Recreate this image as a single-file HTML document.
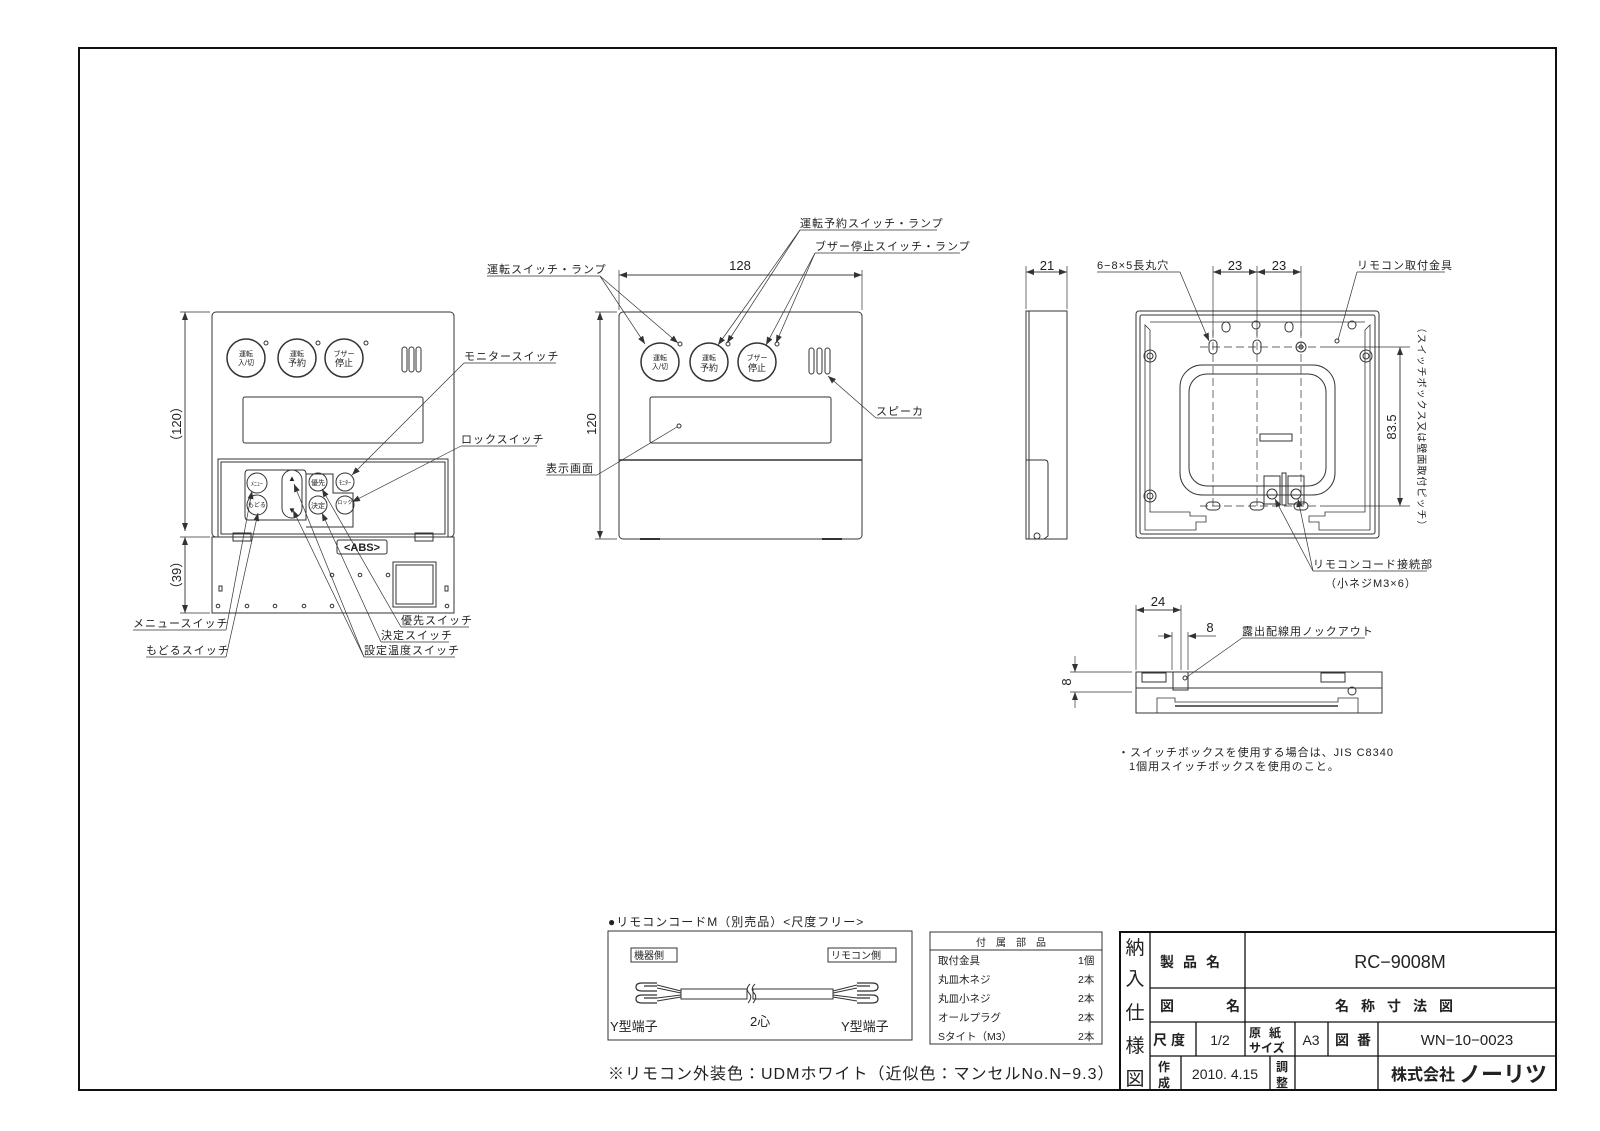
<!DOCTYPE html>
<html><head><meta charset="utf-8"><style>
html,body{margin:0;padding:0;background:#fff;}
svg{display:block;}
text{font-family:"Liberation Sans","Noto Sans CJK JP",sans-serif;fill:#222;}
</style></head><body>
<svg width="1600" height="1131" viewBox="0 0 1600 1131" xmlns="http://www.w3.org/2000/svg">
<defs>
<marker id="a" markerWidth="8" markerHeight="6" refX="8" refY="3" orient="auto" markerUnits="userSpaceOnUse"><path d="M0,0 L8,3 L0,6 z" fill="#333"/></marker>
</defs>
<g fill="none" stroke="#333" stroke-width="1">
<rect x="79" y="48" width="1477" height="1042" stroke="#111" stroke-width="2"/>

<rect x="212" y="312" width="242" height="225" rx="4"/>
<rect x="218" y="459" width="230" height="78"/>
<rect x="221" y="462" width="224" height="72"/>
<circle cx="246" cy="358" r="19" stroke-width="1.5"/>
<circle cx="297" cy="358" r="19" stroke-width="1.5"/>
<circle cx="344" cy="358" r="19" stroke-width="1.5"/>
<circle cx="266" cy="343" r="2"/><circle cx="318" cy="343" r="2"/><circle cx="366" cy="343" r="2"/>
<rect x="402" y="347" width="5" height="25" rx="2.5"/><rect x="409" y="347" width="5" height="25" rx="2.5"/><rect x="416" y="347" width="5" height="25" rx="2.5"/>
<rect x="243" y="397" width="180" height="46" rx="2"/>
<path d="M248,470 H303 Q306,470 306,474 V520 H248 Q245,520 245,516 V474 Q245,470 248,470z"/>
<path d="M306,474 H333 V493 H353 V527 H306"/>
<circle cx="257" cy="483" r="10"/><circle cx="257" cy="505" r="10"/>
<rect x="282" y="470" width="20" height="48" rx="10"/>
<circle cx="318" cy="482" r="9"/><circle cx="318" cy="505" r="9"/>
<circle cx="345" cy="482" r="9"/><circle cx="345" cy="505" r="9"/>
<rect x="212" y="537" width="242" height="76"/>
<rect x="233" y="533" width="18" height="8"/><rect x="415" y="533" width="18" height="8"/>
<rect x="337" y="540" width="50" height="14" rx="2"/>
<rect x="393" y="562" width="43" height="45"/><rect x="396" y="565" width="37" height="39"/>
<rect x="219" y="586" width="3" height="5"/><rect x="445" y="586" width="3" height="5"/>
<g fill="#fff"><circle cx="218" cy="606" r="1.8"/><circle cx="247" cy="606" r="1.8"/><circle cx="275" cy="606" r="1.8"/><circle cx="304" cy="606" r="1.8"/><circle cx="332" cy="606" r="1.8"/><circle cx="332" cy="575" r="1.8"/><circle cx="360" cy="575" r="1.8"/><circle cx="388" cy="575" r="1.8"/><circle cx="447" cy="606" r="1.8"/></g>
<line x1="180" y1="312" x2="210" y2="312" stroke-width="0.7"/>
<line x1="180" y1="537" x2="210" y2="537" stroke-width="0.7"/>
<line x1="180" y1="613" x2="210" y2="613" stroke-width="0.7"/>
<line x1="185" y1="318" x2="185" y2="531" marker-end="url(#a)" stroke-width="0.7"/>
<line x1="185" y1="531" x2="185" y2="312" marker-end="url(#a)" stroke-width="0.7"/>
<line x1="185" y1="543" x2="185" y2="613" marker-end="url(#a)" stroke-width="0.7"/>
<line x1="185" y1="613" x2="185" y2="537" marker-end="url(#a)" stroke-width="0.7"/>
<g stroke-width="0.7">
<polyline points="464,363 556,363"/><line x1="464" y1="363" x2="352" y2="475" marker-end="url(#a)"/>
<polyline points="461,446 537,446"/><line x1="461" y1="446" x2="352" y2="502" marker-end="url(#a)"/>
<polyline points="133,630 226,630"/><line x1="226" y1="630" x2="252" y2="491" marker-end="url(#a)"/>
<polyline points="146,657 226,657"/><line x1="226" y1="657" x2="258" y2="513" marker-end="url(#a)"/>
<polyline points="401,627 469,627"/><line x1="401" y1="627" x2="322" y2="489" marker-end="url(#a)"/>
<polyline points="381,642 449,642"/><line x1="381" y1="642" x2="322" y2="513" marker-end="url(#a)"/>
<polyline points="364,657 455,657"/><line x1="364" y1="657" x2="294" y2="484" marker-end="url(#a)"/><line x1="364" y1="657" x2="293" y2="510" marker-end="url(#a)"/>
</g>

<rect x="619" y="312" width="243" height="227" rx="4"/>
<line x1="619" y1="460" x2="862" y2="460" stroke-width="1.5"/>
<rect x="650" y="397" width="181" height="46" rx="2"/>
<circle cx="660" cy="362" r="19" stroke-width="1.5"/>
<circle cx="709" cy="362" r="19" stroke-width="1.5"/>
<circle cx="757" cy="362" r="19" stroke-width="1.5"/>
<circle cx="680" cy="344" r="2"/><circle cx="728" cy="344" r="2"/><circle cx="777" cy="344" r="2"/>
<rect x="809" y="348" width="5" height="26" rx="2.5"/><rect x="817" y="348" width="5" height="26" rx="2.5"/><rect x="825" y="348" width="5" height="26" rx="2.5"/>
<circle cx="679" cy="426" r="2"/>
<line x1="640" y1="539" x2="660" y2="539" stroke-width="2"/><line x1="822" y1="539" x2="842" y2="539" stroke-width="2"/>
<g stroke-width="0.7">
<line x1="619" y1="270" x2="619" y2="310"/><line x1="862" y1="270" x2="862" y2="310"/>
<line x1="625" y1="275" x2="862" y2="275" marker-end="url(#a)"/><line x1="856" y1="275" x2="619" y2="275" marker-end="url(#a)"/>
<line x1="595" y1="312" x2="617" y2="312"/><line x1="595" y1="539" x2="617" y2="539"/>
<line x1="600" y1="318" x2="600" y2="539" marker-end="url(#a)"/><line x1="600" y1="533" x2="600" y2="312" marker-end="url(#a)"/>
<polyline points="487,276 600,276"/><line x1="600" y1="276" x2="645" y2="344" marker-end="url(#a)"/><line x1="600" y1="276" x2="678" y2="343" marker-end="url(#a)"/>
<polyline points="937,230 800,230"/><line x1="800" y1="230" x2="718" y2="345" marker-end="url(#a)"/><line x1="800" y1="230" x2="727" y2="343" marker-end="url(#a)"/>
<polyline points="960,253 815,253"/><line x1="815" y1="253" x2="766" y2="345" marker-end="url(#a)"/><line x1="815" y1="253" x2="776" y2="343" marker-end="url(#a)"/>
<polyline points="922,418 876,418"/><line x1="876" y1="418" x2="828" y2="376" marker-end="url(#a)"/>
<polyline points="546,475 597,475"/><line x1="597" y1="475" x2="677" y2="427"/>
</g>

<rect x="1026" y="311" width="41" height="228"/>
<line x1="1029" y1="311" x2="1029" y2="539"/>
<path d="M1026,460 H1045 Q1048,460 1048,464 V536 L1044,539 H1026"/>
<circle cx="1037" cy="536" r="3"/>
<g stroke-width="0.7">
<line x1="1026" y1="266" x2="1026" y2="309"/><line x1="1067" y1="266" x2="1067" y2="309"/>
<line x1="1032" y1="272" x2="1067" y2="272" marker-end="url(#a)"/><line x1="1061" y1="272" x2="1026" y2="272" marker-end="url(#a)"/>
</g>

<rect x="1136" y="311" width="243" height="227" rx="3"/>
<rect x="1140" y="315" width="235" height="219" rx="2"/>
<path d="M1145,325 V530 H1196 V522 H1206 V516 H1190 V512 H1150 V330 Z" stroke-width="0.8"/>
<path d="M1370,325 V530 H1319 V522 H1309 V516 H1325 V512 H1365 V330 Z" stroke-width="0.8"/>
<path d="M1150,322 H1365" stroke-width="0.8"/>
<rect x="1180" y="365" width="155" height="130" rx="22"/>
<rect x="1189" y="374" width="137" height="112" rx="18"/>
<rect x="1260" y="434" width="32" height="7"/>
<circle cx="1150" cy="356" r="6"/><circle cx="1150" cy="356" r="3"/>
<circle cx="1366" cy="356" r="6"/><circle cx="1366" cy="356" r="3"/>
<circle cx="1150" cy="496" r="6"/><circle cx="1150" cy="496" r="3"/>
<rect x="1209" y="340" width="8" height="14" rx="4"/><rect x="1253" y="340" width="8" height="14" rx="4"/>
<circle cx="1301" cy="347" r="5"/><circle cx="1301" cy="347" r="2"/>
<circle cx="1256" cy="325" r="4"/><circle cx="1352" cy="325" r="4"/>
<rect x="1222" y="322" width="8" height="10" rx="4"/><rect x="1285" y="322" width="8" height="10" rx="4"/>
<circle cx="1337" cy="341" r="2"/>
<rect x="1206" y="502" width="14" height="8" rx="4"/><rect x="1250" y="502" width="14" height="8" rx="4"/><rect x="1294" y="502" width="14" height="8" rx="4"/>
<rect x="1264" y="476" width="16" height="28"/><rect x="1288" y="476" width="16" height="28"/>
<circle cx="1272" cy="494" r="5"/><circle cx="1296" cy="494" r="5"/>
<rect x="1282" y="473" width="4" height="32"/>
<g stroke-width="0.7" stroke-dasharray="8,4">
<line x1="1213" y1="330" x2="1213" y2="510"/><line x1="1257" y1="330" x2="1257" y2="510"/><line x1="1301" y1="330" x2="1301" y2="510"/>
<line x1="1200" y1="347" x2="1320" y2="347"/><line x1="1200" y1="506" x2="1320" y2="506"/>
</g>
<g stroke-width="0.7">
<line x1="1213" y1="266" x2="1213" y2="336"/><line x1="1257" y1="266" x2="1257" y2="336"/><line x1="1301" y1="266" x2="1301" y2="336"/>
<line x1="1219" y1="272" x2="1257" y2="272" marker-end="url(#a)"/><line x1="1251" y1="272" x2="1213" y2="272" marker-end="url(#a)"/>
<line x1="1263" y1="272" x2="1301" y2="272" marker-end="url(#a)"/><line x1="1295" y1="272" x2="1257" y2="272" marker-end="url(#a)"/>
<line x1="1320" y1="347" x2="1410" y2="347"/><line x1="1320" y1="506" x2="1410" y2="506"/>
<line x1="1400" y1="353" x2="1400" y2="506" marker-end="url(#a)"/><line x1="1400" y1="500" x2="1400" y2="347" marker-end="url(#a)"/>
<polyline points="1097,272 1180,272"/><line x1="1180" y1="272" x2="1209" y2="341" marker-end="url(#a)"/>
<polyline points="1445,272 1357,272"/><line x1="1357" y1="272" x2="1338" y2="340"/>
<polyline points="1427,571 1313,571"/><line x1="1313" y1="571" x2="1275" y2="499" marker-end="url(#a)"/><line x1="1313" y1="571" x2="1298" y2="499" marker-end="url(#a)"/>
</g>

<rect x="1136" y="672" width="246" height="41"/>
<line x1="1136" y1="688" x2="1382" y2="688"/>
<rect x="1142" y="673" width="24" height="9"/><rect x="1321" y="673" width="24" height="9"/>
<rect x="1173" y="672" width="15" height="18"/><circle cx="1185" cy="678" r="2"/>
<path d="M1157,713 V698 H1175 V702 H1338 V698 H1358 V713" stroke-width="0.8"/>
<line x1="1175" y1="706" x2="1338" y2="706" stroke-width="1.5"/>
<circle cx="1352" cy="691" r="4"/>
<g stroke-width="0.7">
<line x1="1136" y1="605" x2="1136" y2="670"/><line x1="1181" y1="605" x2="1181" y2="670"/>
<line x1="1142" y1="610" x2="1181" y2="610" marker-end="url(#a)"/><line x1="1175" y1="610" x2="1136" y2="610" marker-end="url(#a)"/>
<line x1="1172" y1="632" x2="1172" y2="670"/><line x1="1188" y1="632" x2="1188" y2="670"/>
<line x1="1158" y1="636" x2="1172" y2="636" marker-end="url(#a)"/><line x1="1216" y1="636" x2="1188" y2="636" marker-end="url(#a)"/>
<line x1="1070" y1="672" x2="1132" y2="672"/><line x1="1070" y1="692" x2="1132" y2="692"/>
<line x1="1075" y1="656" x2="1075" y2="672" marker-end="url(#a)"/><line x1="1075" y1="708" x2="1075" y2="692" marker-end="url(#a)"/>
<polyline points="1365,638 1242,638"/><line x1="1242" y1="638" x2="1187" y2="677"/>
</g>

<rect x="608" y="931" width="304" height="109"/>
<rect x="631" y="948" width="46" height="14"/><rect x="828" y="948" width="68" height="14"/>
<rect x="681" y="989" width="66" height="10"/><rect x="753" y="989" width="80" height="10"/>
<path d="M681,991 L657,985 M681,993 L657,988 M681,995 L657,998 M681,997 L657,1001"/>
<path d="M833,991 L857,985 M833,993 L857,988 M833,995 L857,998 M833,997 L857,1001"/>
<path d="M657,983 H642 Q636,983 636,987 Q636,991 642,991 H657 M644,986 H657 M657,995 H642 Q636,995 636,999 Q636,1003 642,1003 H657 M644,998 H657" stroke-width="1.2"/>
<path d="M857,983 H872 Q878,983 878,987 Q878,991 872,991 H857 M870,986 H857 M857,995 H872 Q878,995 878,999 Q878,1003 872,1003 H857 M870,998 H857" stroke-width="1.2"/>
<path d="M750,984 Q745,989 749,993 Q753,997 748,1003 M755,984 Q750,989 754,993 Q758,997 753,1003"/>

<rect x="930" y="932" width="172" height="112"/>
<line x1="930" y1="950" x2="1102" y2="950"/>

<rect x="1120" y="932" width="436" height="158" stroke="#111" stroke-width="2"/>
<g stroke="#111" stroke-width="1.3">
<line x1="1150" y1="932" x2="1150" y2="1090"/>
<line x1="1150" y1="988" x2="1556" y2="988"/>
<line x1="1150" y1="1022" x2="1556" y2="1022"/>
<line x1="1150" y1="1056" x2="1556" y2="1056"/>
<line x1="1245" y1="932" x2="1245" y2="1056"/>
<line x1="1196" y1="1022" x2="1196" y2="1056"/>
<line x1="1295" y1="1022" x2="1295" y2="1090"/>
<line x1="1328" y1="1022" x2="1328" y2="1056"/>
<line x1="1378" y1="1022" x2="1378" y2="1090"/>
<line x1="1181" y1="1056" x2="1181" y2="1090"/>
<line x1="1270" y1="1056" x2="1270" y2="1090"/>
</g>
</g>

<g font-size="7" text-anchor="middle">
<text x="246" y="356">運転</text><text x="246" y="365">入/切</text>
<text x="297" y="356">運転</text><text x="297" y="366" font-size="9">予約</text>
<text x="344" y="356">ブザー</text><text x="344" y="366" font-size="9">停止</text>
<text x="257" y="486" font-size="6">ﾒﾆｭｰ</text><text x="257" y="507" font-size="6">もどる</text>
<text x="292" y="481" font-size="8">▲</text><text x="292" y="513" font-size="8">▼</text>
<text x="318" y="485" font-size="7">優先</text><text x="318" y="508" font-size="7">決定</text>
<text x="345" y="485" font-size="6">ﾓﾆﾀｰ</text><text x="345" y="504" font-size="5">ロック</text>
<text x="362" y="551" font-size="11" font-weight="bold">&lt;ABS&gt;</text>
<text x="660" y="360">運転</text><text x="660" y="369">入/切</text>
<text x="709" y="360">運転</text><text x="709" y="371" font-size="9">予約</text>
<text x="757" y="360">ブザー</text><text x="757" y="371" font-size="9">停止</text>
</g>
<g font-size="11" letter-spacing="1">
<text x="464" y="360">モニタースイッチ</text>
<text x="461" y="443">ロックスイッチ</text>
<text x="133" y="627">メニュースイッチ</text>
<text x="146" y="654">もどるスイッチ</text>
<text x="401" y="624">優先スイッチ</text>
<text x="381" y="639">決定スイッチ</text>
<text x="364" y="654">設定温度スイッチ</text>
<text x="487" y="273">運転スイッチ・ランプ</text>
<text x="800" y="227">運転予約スイッチ・ランプ</text>
<text x="815" y="250">ブザー停止スイッチ・ランプ</text>
<text x="876" y="415">スピーカ</text>
<text x="546" y="472">表示画面</text>
<text x="1097" y="269">6−8×5長丸穴</text>
<text x="1357" y="269">リモコン取付金具</text>
<text x="1313" y="568">リモコンコード接続部</text>
<text x="1325" y="587">（小ネジM3×6）</text>
<text x="1242" y="635">露出配線用ノックアウト</text>
<text x="1118" y="756">・スイッチボックスを使用する場合は、JIS C8340</text>
<text x="1129" y="770">1個用スイッチボックスを使用のこと。</text>
</g>
<g font-size="13" text-anchor="middle">
<text x="740" y="270">128</text>
<text x="1047" y="270">21</text>
<text x="1235" y="270">23</text>
<text x="1279" y="270">23</text>
<text x="1158" y="606">24</text>
<text x="1210" y="632">8</text>
<text transform="translate(181,424) rotate(-90)">（120）</text>
<text transform="translate(181,575) rotate(-90)">（39）</text>
<text transform="translate(596,424) rotate(-90)">120</text>
<text transform="translate(1396,427) rotate(-90)">83.5</text>
<text transform="translate(1071,682) rotate(-90)">8</text>
</g>
<text transform="translate(1418,427) rotate(90)" font-size="10" text-anchor="middle" letter-spacing="1">（スイッチボックス又は壁面取付ピッチ）</text>

<g font-size="12">
<text x="608" y="926" letter-spacing="1">●リモコンコードM（別売品）&lt;尺度フリー&gt;</text>
<text x="634" y="959" font-size="10">機器側</text>
<text x="831" y="959" font-size="10">リモコン側</text>
<text x="610" y="1031" font-size="13">Y型端子</text>
<text x="750" y="1026" font-size="13">2心</text>
<text x="841" y="1031" font-size="13">Y型端子</text>
<text x="1016" y="946" font-size="10" text-anchor="middle" letter-spacing="10">付属部品</text>
<g font-size="10.5">
<text x="938" y="964">取付金具</text><text x="1078" y="964">1個</text>
<text x="938" y="983">丸皿木ネジ</text><text x="1078" y="983">2本</text>
<text x="938" y="1002">丸皿小ネジ</text><text x="1078" y="1002">2本</text>
<text x="938" y="1021">オールプラグ</text><text x="1078" y="1021">2本</text>
<text x="938" y="1040">Sタイト（M3）</text><text x="1078" y="1040">2本</text>
</g>
<text x="608" y="1079" font-size="16" letter-spacing="1">※リモコン外装色：UDMホワイト（近似色：マンセルNo.N−9.3）</text>
</g>

<g fill="#111">
<g font-size="19" text-anchor="middle">
<text x="1135" y="954">納</text><text x="1135" y="985">入</text><text x="1135" y="1019">仕</text><text x="1135" y="1052">様</text><text x="1135" y="1085">図</text>
</g>
<text x="1160" y="967" font-size="14" font-weight="bold" letter-spacing="9">製品名</text>
<text x="1160" y="1011" font-size="14" font-weight="bold">図</text>
<text x="1226" y="1011" font-size="14" font-weight="bold">名</text>
<text x="1400" y="968" font-size="18" text-anchor="middle">RC−9008M</text>
<text x="1400" y="1011" font-size="14" font-weight="bold" text-anchor="middle" letter-spacing="12">名称寸法図</text>
<text x="1153" y="1045" font-size="14" font-weight="bold" letter-spacing="4">尺度</text>
<text x="1220" y="1045" font-size="14" text-anchor="middle">1/2</text>
<text x="1249" y="1037" font-size="12" font-weight="bold" letter-spacing="8">原紙</text>
<text x="1249" y="1052" font-size="12" font-weight="bold">サイズ</text>
<text x="1311" y="1045" font-size="14" text-anchor="middle">A3</text>
<text x="1335" y="1045" font-size="14" font-weight="bold" letter-spacing="8">図番</text>
<text x="1467" y="1045" font-size="15" text-anchor="middle">WN−10−0023</text>
<text x="1158" y="1071" font-size="12" font-weight="bold">作</text><text x="1158" y="1087" font-size="12" font-weight="bold">成</text>
<text x="1225" y="1079" font-size="14" text-anchor="middle">2010. 4.15</text>
<text x="1276" y="1071" font-size="12" font-weight="bold">調</text><text x="1276" y="1087" font-size="12" font-weight="bold">整</text>
<text x="1391" y="1080" font-size="16" font-weight="bold">株式会社</text>
<text x="1459" y="1082" font-size="22" font-weight="bold">ノーリツ</text>
</g>
</svg>
</body></html>
